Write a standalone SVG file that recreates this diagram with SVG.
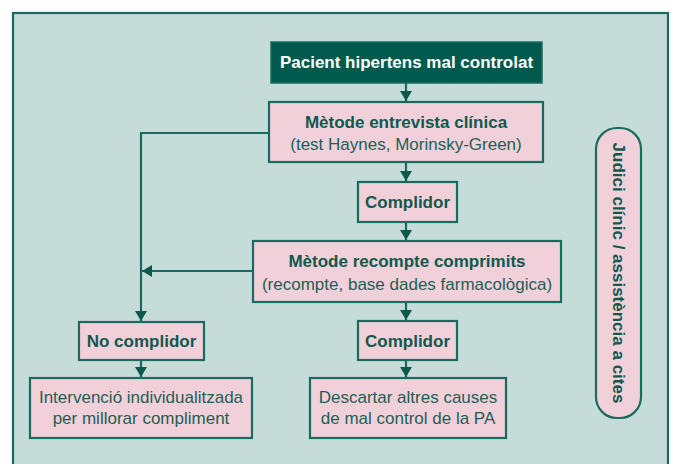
<svg xmlns="http://www.w3.org/2000/svg" width="675" height="464" viewBox="0 0 675 464">
<defs>
<style>
.box{fill:#f2d0d9;stroke:#1a6b5f;stroke-width:2.2}
.dark{fill:#005a4e;stroke:#1a6b5f;stroke-width:1.5}
.b{font-family:"Liberation Sans",Arial,sans-serif;font-weight:bold;font-size:17px;fill:#0d5a4d;text-anchor:middle}
.r{font-family:"Liberation Sans",Arial,sans-serif;font-size:17px;fill:#1c6055;text-anchor:middle}
.w{font-family:"Liberation Sans",Arial,sans-serif;font-weight:bold;font-size:17px;fill:#ffffff;text-anchor:middle}
.ln{fill:none;stroke:#1a6b5f;stroke-width:2.2}
</style>
<marker id="ah" viewBox="0 0 10 12" refX="10" refY="6" markerWidth="10" markerHeight="12" markerUnits="userSpaceOnUse" orient="auto">
<path d="M0,0 L10,6 L0,12 Z" fill="#0d5a4d"/>
</marker>
</defs>
<rect x="0" y="0" width="675" height="464" fill="#ffffff"/>
<rect x="13" y="13" width="655" height="470" fill="#c5dcd8" stroke="#1a6b5f" stroke-width="2.2"/>

<g id="connectors">
<line class="ln" x1="406" y1="83" x2="406" y2="101" marker-end="url(#ah)"/>
<polyline class="ln" points="269,133 141,133 141,321" marker-end="url(#ah)"/>
<line class="ln" x1="406" y1="162" x2="406" y2="181" marker-end="url(#ah)"/>
<line class="ln" x1="406" y1="222" x2="406" y2="240" marker-end="url(#ah)"/>
<line class="ln" x1="253" y1="271" x2="142" y2="271" marker-end="url(#ah)"/>
<line class="ln" x1="406" y1="302" x2="406" y2="320" marker-end="url(#ah)"/>
<line class="ln" x1="141" y1="360" x2="141" y2="377" marker-end="url(#ah)"/>
<line class="ln" x1="406" y1="360" x2="406" y2="377" marker-end="url(#ah)"/>
</g>

<g id="pacient">
<rect class="dark" x="271" y="42" width="271" height="41"/>
<text class="w" x="406.5" y="68">Pacient hipertens mal controlat</text>
</g>

<g id="entrevista">
<rect class="box" x="269" y="102" width="274" height="60"/>
<text class="b" x="406" y="128">Mètode entrevista clínica</text>
<text class="r" x="406" y="150">(test Haynes, Morinsky-Green)</text>
</g>

<g id="complidor1">
<rect class="box" x="358" y="182" width="99" height="40"/>
<text class="b" x="407.5" y="208">Complidor</text>
</g>

<g id="recompte">
<rect class="box" x="253" y="241" width="308" height="61"/>
<text class="b" x="407" y="267">Mètode recompte comprimits</text>
<text class="r" x="407" y="290">(recompte, base dades farmacològica)</text>
</g>

<g id="nocomplidor">
<rect class="box" x="79" y="322" width="125" height="38"/>
<text class="b" x="141.5" y="347">No complidor</text>
</g>

<g id="complidor2">
<rect class="box" x="358" y="321" width="99" height="39"/>
<text class="b" x="407.5" y="347">Complidor</text>
</g>

<g id="intervencio">
<rect class="box" x="30" y="378" width="222" height="60"/>
<text class="r" x="141" y="403">Intervenció individualitzada</text>
<text class="r" x="141" y="424">per millorar compliment</text>
</g>

<g id="descartar">
<rect class="box" x="310" y="378" width="196" height="60"/>
<text class="r" x="408" y="403">Descartar altres causes</text>
<text class="r" x="408" y="424">de mal control de la PA</text>
</g>

<g id="judici">
<rect class="box" x="596" y="128" width="45" height="290" rx="21" ry="21"/>
<text class="b" transform="translate(612.5,273) rotate(90)" x="0" y="0">Judici clínic / assistència a cites</text>
</g>
</svg>
